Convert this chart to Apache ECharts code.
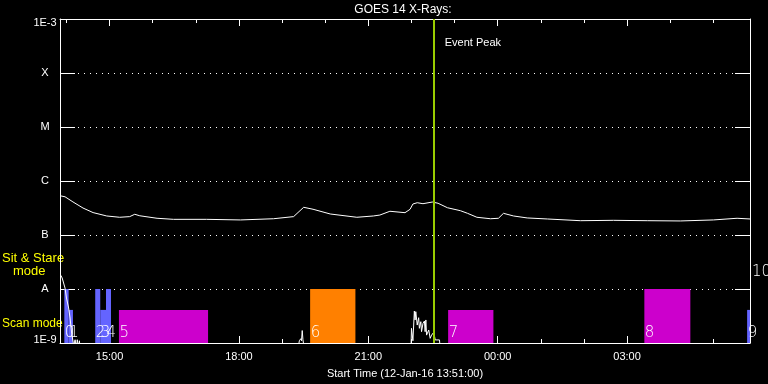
<!DOCTYPE html>
<html><head><meta charset="utf-8">
<script src="https://cdn.jsdelivr.net/npm/echarts@6/dist/echarts.min.js"></script>
<style>html,body{margin:0;padding:0;background:#000}#c{width:768px;height:384px}</style>
</head><body><div id="c"></div>
<script>
// ---------------- data ----------------
const titleText = 'GOES 14 X-Rays:';
const xAxisName = 'Start Time (12-Jan-16 13:51:00)';
const startTime = '13:51';
const endTime = '05:51';
const yTickExps = [-9, -8, -7, -6, -5, -4, -3];
const yTickNames = ['1E-9', 'A', 'B', 'C', 'M', 'X', '1E-3'];

// GOES long channel (1-8 A)
const longTimes = ['13:52','13:58','14:09','14:23','14:37','14:56','15:14','15:28','15:35','15:42',
  '16:06','16:29','17:15','18:02','18:48','19:16','19:30','19:43','20:07','20:44',
  '21:07','21:16','21:30','21:51','21:58','22:02','22:08','22:16','22:29','22:37',
  '22:50','23:08','23:18','23:31','23:50','00:01','00:08','00:22','00:41','01:09',
  '01:55','02:41','03:28','04:14','05:00','05:19','05:33','05:51'];
const longFlux = [5.3e-7,5.1e-7,4.1e-7,3.16e-7,2.6e-7,2.25e-7,2.13e-7,2.19e-7,2.42e-7,2.27e-7,
  2.04e-7,1.95e-7,1.95e-7,1.9e-7,2.0e-7,2.19e-7,3.26e-7,3.0e-7,2.45e-7,2.13e-7,
  2.25e-7,2.34e-7,2.75e-7,2.59e-7,2.99e-7,3.75e-7,3.96e-7,3.8e-7,4.08e-7,3.87e-7,
  3.2e-7,2.82e-7,2.52e-7,2.13e-7,2.0e-7,2.04e-7,2.52e-7,2.25e-7,2.07e-7,1.98e-7,
  1.84e-7,1.87e-7,1.84e-7,1.82e-7,1.9e-7,1.98e-7,2.04e-7,1.98e-7];

// GOES short channel (0.5-4 A), mostly below 1E-9
const shortTimes = ['13:52','13:54','13:56','13:58','14:00','14:03','14:05','14:07','14:10',
  '14:12','14:14','14:15','14:17','14:18','14:20',
  '19:20','19:24','19:26','19:27','19:28','19:29','19:31','19:33',
  '21:59','22:00','22:02','22:04','22:05','22:06','22:08','22:10','22:11','22:13','22:14',
  '22:16','22:18','22:19','22:20','22:21','22:24','22:26','22:28','22:31','22:33','22:35',
  '22:39','22:41','05:51'];
const shortFlux = [1.8e-8,1.6e-8,1.53e-8,1.04e-8,6.8e-9,4.45e-9,2.9e-9,1.6e-9,9e-10,
  1.15e-9,8e-10,1.15e-9,8e-10,1.1e-9,5e-10,
  5e-10,1.1e-9,1.2e-9,1.1e-9,1.7e-9,1.15e-9,1.2e-9,5e-10,
  5e-10,1.87e-9,1.1e-9,3.9e-9,2.67e-9,3.8e-9,2.15e-9,2.94e-9,1.87e-9,2.48e-9,1.62e-9,
  2.3e-9,2.55e-9,1.62e-9,2.67e-9,1.4e-9,1.74e-9,1.22e-9,1.4e-9,1.58e-9,1.14e-9,1.06e-9,
  1.14e-9,5e-10,5e-10];

// observation blocks
const barLabels = ['0','1','2','3','4','5','6','7','8','9'];
const barStart = ['13:57','14:03','14:40','14:47','14:55','15:13','19:39','22:51','03:24','05:47'];
const barEnd   = ['14:03','14:09','14:47','14:55','15:02','17:17','20:42','23:54','04:28','05:55'];
const barTop   = [1e-8, 4.1e-9, 1e-8, 4.1e-9, 1e-8, 4.1e-9, 1e-8, 4.1e-9, 1e-8, 4.1e-9];
const barKind  = [0, 0, 0, 0, 0, 1, 2, 1, 1, 0];
const extraLabel = '10';

const eventTime = '22:31';
const eventLabel = 'Event Peak';
const modeLabels = ['Sit & Stare', 'mode', 'Scan mode'];

// ---------------- chart ----------------
const palette = ['#6464ff', '#cc00cc', '#ff8000'];
const FONT = '"Liberation Sans", Arial, sans-serif';
const DIGIT_FONT = '200 15px "DejaVu Sans", sans-serif';
const BASE = 1e-9;
function toH(s) {
  const p = s.split(':');
  let h = +p[0] + (+p[1]) / 60;
  if (h < 12) h += 24;
  return h;
}
const xMin = toH(startTime), xMax = toH(endTime);
const longData = longTimes.map((t, i) => [toH(t), longFlux[i]]);
const shortData = shortTimes.map((t, i) => [toH(t), shortFlux[i]]);
const barData = barStart.map((t, i) => [toH(t), toH(barEnd[i]), barTop[i], barKind[i]]);

function hourLabel(v) {
  const h = Math.round(v) % 24;
  return (h < 10 ? '0' : '') + h + ':00';
}
function yLabel(v) {
  const e = Math.round(Math.log10(v));
  const i = yTickExps.indexOf(e);
  if (i < 0) return '';
  if (i === 0) return '{lo|' + yTickNames[i] + '}';
  if (i === yTickExps.length - 1) return '{hi|' + yTickNames[i] + '}';
  return yTickNames[i];
}

const chart = echarts.init(document.getElementById('c'), null, {renderer: 'canvas'});
const xCommon = {type: 'value', min: xMin, max: xMax, splitLine: {show: false}};
const richBase = {color: '#fff', fontSize: 11, fontFamily: FONT};
const option = {
  backgroundColor: '#000',
  animation: false,
  grid: {left: 60, right: 18, top: 19, bottom: 41, show: false},
  xAxis: [
    Object.assign({}, xCommon, {
      position: 'bottom', splitNumber: 5,
      axisLine: {show: true, lineStyle: {color: '#fff', width: 1}},
      axisTick: {show: true, inside: true, length: 7, lineStyle: {color: '#fff'}},
      axisLabel: {show: true, color: '#fff', fontSize: 11, fontFamily: FONT, margin: 8,
        showMinLabel: false, showMaxLabel: false, formatter: hourLabel},
      name: xAxisName, nameLocation: 'middle', nameGap: 25,
      nameTextStyle: {color: '#fff', fontSize: 11, fontFamily: FONT}
    }),
    Object.assign({}, xCommon, {
      position: 'bottom', splitNumber: 16,
      axisLine: {show: false},
      axisTick: {show: true, inside: true, length: 4, lineStyle: {color: '#fff'}},
      axisLabel: {show: false}
    }),
    Object.assign({}, xCommon, {
      position: 'top', splitNumber: 5,
      axisLine: {show: true, lineStyle: {color: '#fff', width: 1}},
      axisTick: {show: true, inside: true, length: 7, lineStyle: {color: '#fff'}},
      axisLabel: {show: false}
    }),
    Object.assign({}, xCommon, {
      position: 'top', splitNumber: 16,
      axisLine: {show: false},
      axisTick: {show: true, inside: true, length: 4, lineStyle: {color: '#fff'}},
      axisLabel: {show: false}
    })
  ],
  yAxis: [
    {
      type: 'log', logBase: 10, min: 1e-9, max: 1e-3, position: 'left',
      axisLine: {show: true, lineStyle: {color: '#fff', width: 1}},
      axisTick: {show: true, inside: true, length: 15, lineStyle: {color: '#fff'}},
      axisLabel: {show: true, color: '#fff', fontSize: 11, fontFamily: FONT, margin: 15,
        align: 'center', formatter: yLabel,
        rich: {
          lo: Object.assign({padding: [0, 0, 6, 0]}, richBase),
          hi: Object.assign({padding: [8, 0, 0, 0]}, richBase)
        }},
      splitLine: {show: true, lineStyle: {color: '#fff', width: 1, type: [1, 5]}},
      minorTick: {show: false}
    },
    {
      type: 'log', logBase: 10, min: 1e-9, max: 1e-3, position: 'right',
      axisLine: {show: true, lineStyle: {color: '#fff', width: 1}},
      axisTick: {show: true, inside: true, length: 15, lineStyle: {color: '#fff'}},
      axisLabel: {show: false},
      splitLine: {show: false}
    }
  ],
  series: [
    {
      type: 'custom', xAxisIndex: 0, yAxisIndex: 0, z: 1,
      encode: {x: [0, 1], y: 2},
      data: barData,
      renderItem: function (params, api) {
        const cs = params.coordSys;
        const s = api.coord([api.value(0), BASE]);
        const e = api.coord([api.value(1), api.value(2)]);
        const x0 = Math.max(s[0], cs.x), x1 = Math.min(e[0], cs.x + cs.width);
        if (x1 <= x0) return null;
        return {type: 'rect',
          shape: {x: x0, y: e[1], width: x1 - x0, height: s[1] - e[1]},
          style: {fill: palette[api.value(3)]}};
      }
    },
    {
      type: 'custom', xAxisIndex: 0, yAxisIndex: 0, z: 5,
      encode: {x: 0, y: 2},
      data: barData,
      renderItem: function (params, api) {
        const s = api.coord([api.value(0), BASE]);
        return {type: 'text',
          style: {text: barLabels[params.dataIndex], x: s[0] + 0.5, y: s[1] - 10,
            fill: '#fff', font: DIGIT_FONT,
            align: 'left', verticalAlign: 'middle'}};
      }
    },
    {
      type: 'line', xAxisIndex: 0, yAxisIndex: 0, z: 3,
      data: shortData, symbol: 'none', clip: true,
      lineStyle: {color: '#fff', width: 1}
    },
    {
      type: 'line', xAxisIndex: 0, yAxisIndex: 0, z: 3,
      data: longData, symbol: 'none', clip: true,
      lineStyle: {color: '#fff', width: 1},
      markLine: {
        silent: true, symbol: 'none', label: {show: false},
        lineStyle: {color: '#99cc00', width: 2, type: 'solid'},
        data: [{xAxis: toH(eventTime)}]
      }
    }
  ],
  graphic: [
    {type: 'text', style: {text: titleText, x: 403, y: 10, fill: '#fff',
      font: '12px ' + FONT, align: 'center', verticalAlign: 'middle'}},
    {type: 'text', style: {text: modeLabels[0], x: 2, y: 258, fill: '#ffff00',
      font: '13px ' + FONT, align: 'left', verticalAlign: 'middle'}},
    {type: 'text', style: {text: modeLabels[1], x: 13, y: 271, fill: '#ffff00',
      font: '13px ' + FONT, align: 'left', verticalAlign: 'middle'}},
    {type: 'text', style: {text: modeLabels[2], x: 2, y: 324, fill: '#ffff00',
      font: '12px ' + FONT, align: 'left', verticalAlign: 'middle'}},
    {type: 'text', style: {text: extraLabel, x: 752, y: 272, fill: '#fff',
      font: DIGIT_FONT, align: 'left', verticalAlign: 'middle'}}
  ]
};
chart.setOption(option);
const ex = chart.convertToPixel({xAxisIndex: 0}, toH(eventTime));
const ey = chart.convertToPixel({yAxisIndex: 0}, 1e-3);
chart.setOption({graphic: option.graphic.concat([
  {type: 'text', style: {text: eventLabel, x: ex + 11, y: ey + 24, fill: '#fff',
    font: '11px ' + FONT, align: 'left', verticalAlign: 'middle'}}
])});
</script>
</body></html>
